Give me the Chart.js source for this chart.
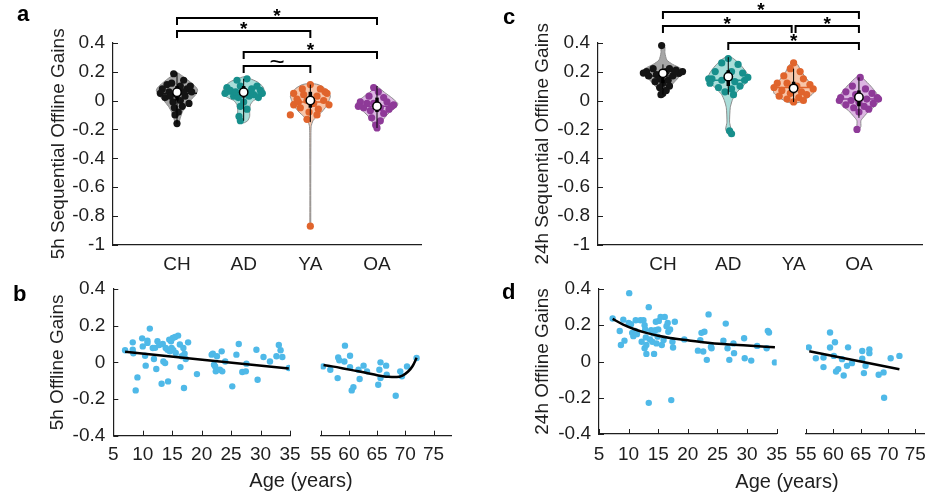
<!DOCTYPE html>
<html>
<head>
<meta charset="utf-8">
<script src="https://cdn.jsdelivr.net/npm/chart.js@4.4.0/dist/chart.umd.min.js"></script>
<style>
  body { margin: 0; background: #fff; width: 928px; height: 495px; position: relative; overflow: hidden; font-family: 'Liberation Sans', Arial, sans-serif; color: #1e1e1e; }
  canvas { position: absolute; }
  .tag { position: absolute; font-weight: bold; font-size: 22px; line-height: 22px; color: #000; }
  .xname { position: absolute; font-size: 20px; transform: translate(-50%, -50%); white-space: nowrap; }
</style>
</head>
<body>
<canvas id="violin5h" width="464" height="280" style="left:0;top:0"></canvas>
<canvas id="violin24h" width="464" height="280" style="left:464px;top:0"></canvas>
<canvas id="age5hYoung" width="300" height="225" style="left:0;top:270px"></canvas>
<canvas id="age5hOld" width="160" height="225" style="left:300px;top:270px"></canvas>
<canvas id="age24hYoung" width="326" height="225" style="left:464px;top:270px"></canvas>
<canvas id="age24hOld" width="138" height="225" style="left:790px;top:270px"></canvas>
<div class="tag" style="left:17px;top:3px">a</div>
<div class="tag" style="left:13px;top:283px">b</div>
<div class="tag" style="left:503px;top:6px">c</div>
<div class="tag" style="left:502px;top:281px">d</div>
<div class="xname" style="left:301px;top:480px">Age (years)</div>
<div class="xname" style="left:787px;top:481px">Age (years)</div>
<script>
const FONT = "'Liberation Sans', Arial, sans-serif";
const INK = '#1e1e1e';

const groups = ['CH', 'AD', 'YA', 'OA'];
const dotColors = ['#141414', '#178f8c', '#e0642c', '#8e3a98'];
const bodyColors = ['#a6a6a6', '#a9ddd9', '#f7c5a9', '#dcb6e2'];
const gainTicks = [-1, -0.8, -0.6, -0.4, -0.2, 0, 0.2, 0.4];
const ageGainTicks = [-0.4, -0.2, 0, 0.2, 0.4];
const youngAgeTicks = [5, 10, 15, 20, 25, 30, 35];
const oldAgeTicks = [55, 60, 65, 70, 75];

// panel a: 5h sequential offline gains
// violin outline per group as [gain, half width]
const outline5h = [
  [[0.195,0],[0.18,0.05],[0.15,0.14],[0.12,0.22],[0.09,0.29],[0.07,0.31],[0.04,0.28],[0,0.2],[-0.04,0.13],[-0.08,0.08],[-0.12,0.05],[-0.15,0.03],[-0.165,0]],
  [[0.165,0],[0.15,0.1],[0.13,0.2],[0.1,0.28],[0.07,0.31],[0.04,0.3],[0.02,0.24],[0,0.15],[-0.03,0.1],[-0.07,0.09],[-0.11,0.09],[-0.14,0.06],[-0.155,0]],
  [[0.12,0],[0.11,0.12],[0.09,0.2],[0.06,0.27],[0.03,0.3],[0,0.28],[-0.04,0.24],[-0.08,0.17],[-0.11,0.1],[-0.14,0.04],[-0.18,0.012],[-0.3,0.008],[-0.6,0.006],[-0.87,0.006],[-0.88,0]],
  [[0.1,0],[0.08,0.05],[0.05,0.13],[0.02,0.22],[-0.02,0.31],[-0.04,0.3],[-0.07,0.22],[-0.1,0.15],[-0.14,0.08],[-0.18,0.03],[-0.2,0]]
];
// subjects per group as [spread, gain]
const dots5h = [
  [[-0.05,0.185],[0.1,0.14],[-0.22,0.08],[-0.15,0.11],[-0.08,0.12],[0.05,0.1],[0.15,0.08],[0.22,0.06],[-0.25,0.05],[-0.12,0.06],[0,0.04],[0.12,0.03],[-0.18,0.02],[0.05,0],[-0.06,-0.01],[0.18,-0.02],[0.08,-0.04],[-0.04,-0.05],[0.02,-0.08],[-0.03,-0.1],[0,-0.16],[0.1,0.06],[-0.1,0.03],[0.2,0.1]],
  [[-0.1,0.14],[0.05,0.15],[0.2,0.1],[-0.25,0.09],[0.25,0.07],[-0.2,0.07],[0.12,0.08],[-0.05,0.1],[0.28,0.05],[-0.28,0.05],[0.15,0.04],[-0.15,0.03],[0.08,0.03],[-0.08,0.02],[0.22,0.02],[0,-0.01],[-0.05,-0.04],[0.05,-0.06],[-0.07,-0.11],[-0.05,-0.14],[0.1,0.06],[-0.12,0.06]],
  [[0,0.11],[-0.12,0.08],[0.15,0.08],[-0.25,0.05],[0.25,0.05],[-0.1,0.04],[0.1,0.03],[-0.2,0.01],[0.2,0],[-0.05,0],[0.05,-0.02],[-0.25,-0.03],[0.28,-0.03],[-0.15,-0.05],[0.12,-0.06],[-0.02,-0.08],[-0.3,-0.1],[0.1,-0.1],[-0.05,-0.13],[0,-0.87],[0.22,0.06],[-0.18,-0.01]],
  [[-0.05,0.09],[0.02,0.06],[-0.12,0.03],[0.1,0.02],[-0.25,-0.01],[-0.15,-0.02],[0.15,-0.01],[0.25,-0.03],[-0.05,-0.02],[0.05,-0.05],[-0.2,-0.05],[0.18,-0.06],[-0.1,-0.07],[0.1,-0.09],[-0.08,-0.12],[0.05,-0.14],[-0.02,-0.17],[0,-0.19],[0.22,-0.04],[-0.28,-0.04]]
];
const median5h = [0.057, 0.057, 0.0, -0.04];
const q1_5h = [0.0, 0.02, -0.05, -0.08];
const q3_5h = [0.1, 0.1, 0.06, 0.02];
const low5h = [-0.16, -0.14, -0.15, -0.19];
const high5h = [0.19, 0.15, 0.11, 0.1];
const mean5h = [0.05, 0.045, -0.01, -0.04];
const meanHalf5h = [0.3, 0.3, 0.28, 0.3];
const brackets5h = [[1, 4, 0.571, '*'], [1, 3, 0.481, '*'], [2, 4, 0.336, '*'], [2, 3, 0.239, '~']];

// panel c: 24h sequential offline gains
const outline24h = [
  [[0.39,0],[0.37,0.03],[0.33,0.03],[0.28,0.06],[0.25,0.15],[0.22,0.28],[0.2,0.3],[0.17,0.26],[0.13,0.18],[0.09,0.1],[0.06,0.06],[0.035,0]],
  [[0.31,0],[0.29,0.08],[0.25,0.18],[0.2,0.27],[0.16,0.31],[0.12,0.27],[0.08,0.18],[0.04,0.1],[0,0.06],[-0.05,0.03],[-0.15,0.02],[-0.2,0.04],[-0.235,0]],
  [[0.27,0],[0.25,0.06],[0.2,0.12],[0.15,0.2],[0.11,0.27],[0.08,0.31],[0.05,0.3],[0.02,0.22],[-0.01,0.1],[-0.02,0]],
  [[0.175,0],[0.15,0.07],[0.1,0.18],[0.05,0.27],[0.01,0.31],[-0.03,0.27],[-0.07,0.16],[-0.11,0.08],[-0.14,0.03],[-0.18,0.03],[-0.2,0]]
];
const dots24h = [
  [[-0.02,0.38],[-0.25,0.2],[-0.15,0.22],[0.1,0.22],[0.2,0.21],[0.25,0.19],[-0.22,0.17],[-0.1,0.18],[0.05,0.2],[0.15,0.17],[-0.05,0.15],[0.08,0.14],[-0.12,0.13],[0,0.12],[0.1,0.1],[-0.05,0.09],[0.05,0.07],[0,0.05],[-0.03,0.04],[0.18,0.2],[-0.3,0.19],[0.3,0.2]],
  [[0,0.29],[-0.1,0.26],[0.15,0.25],[-0.2,0.2],[0.22,0.19],[0.05,0.2],[-0.25,0.15],[0.25,0.14],[-0.1,0.14],[0.1,0.13],[-0.28,0.12],[0.18,0.1],[-0.15,0.09],[0.05,0.08],[-0.05,0.06],[0.08,0.04],[0.3,0.16],[-0.3,0.15],[0.02,-0.21],[0.05,-0.23],[0,0.18]],
  [[0,0.26],[-0.05,0.22],[0.1,0.2],[-0.15,0.17],[0.15,0.15],[-0.25,0.12],[0.25,0.11],[-0.1,0.12],[0.05,0.1],[-0.3,0.09],[0.3,0.08],[-0.18,0.07],[0.12,0.06],[-0.05,0.05],[0.2,0.04],[-0.22,0.03],[0.08,0.02],[-0.1,0.01],[0,-0.01],[0.15,0]],
  [[0.02,0.16],[-0.1,0.1],[0.1,0.08],[-0.2,0.06],[0.2,0.05],[-0.05,0.04],[0.28,0.02],[-0.28,0.02],[0.12,0.01],[-0.12,0],[0,-0.01],[0.22,-0.02],[-0.2,-0.03],[0.08,-0.04],[-0.08,-0.05],[0.15,-0.06],[0,-0.08],[-0.03,-0.2],[0.3,0.01],[-0.3,0]]
];
const median24h = [0.188, 0.165, 0.084, 0.022];
const q1_24h = [0.12, 0.1, 0.05, -0.04];
const q3_24h = [0.21, 0.21, 0.13, 0.07];
const low24h = [0.04, 0.04, -0.01, -0.12];
const high24h = [0.25, 0.3, 0.22, 0.16];
const mean24h = [0.17, 0.14, 0.09, 0.01];
const meanHalf24h = [0.27, 0.29, 0.28, 0.3];
const brackets24h = [[1, 4, 0.612, '*'], [1, 2.97, 0.516, '*'], [3.03, 4, 0.516, '*'], [2, 4, 0.4, '*']];

// panel b: 5h gains by age [age, gain]
const young5h = [[7.0,0.066],[8.3,0.109],[8.3,0.069],[8.4,0.05],[9.1,-0.082],[8.8,-0.153],[9.9,0.131],[10.0,0.087],[10.4,0.036],[10.5,-0.018],[10.8,0.106],[10.8,0.118],[11.2,0.184],[11.7,0.078],[11.9,0.018],[12.1,0.079],[12.3,-0.036],[12.5,0.115],[12.8,0.095],[13.2,-0.117],[13.4,0.1],[13.5,0.005],[13.8,-0.004],[13.9,0.078],[14.2,0.069],[14.3,-0.104],[14.5,0.124],[14.6,0.06],[14.8,0.115],[14.9,0.078],[15.1,0.133],[15.2,0.066],[15.5,0.138],[15.6,0.051],[16.0,0.146],[16.3,0.097],[16.4,-0.026],[16.6,0.033],[16.9,0.078],[17.0,-0.14],[17.1,0.047],[17.3,0.018],[17.7,0.109],[19.2,-0.064],[21.7,0.042],[21.9,0.047],[22.1,-0.013],[22.3,-0.022],[22.6,0.033],[22.4,-0.049],[23.1,-0.04],[23.4,0.06],[23.5,-0.049],[24.0,0.005],[25.2,-0.131],[25.9,0.042],[26.3,0.1],[26.9,-0.053],[27.5,-0.049],[27.6,-0.007],[29.3,0.069],[29.5,-0.095],[30.5,0.029],[31.6,0.005],[32.7,0.033],[33.1,0.095],[33.4,0.066],[33.7,0.029],[34.8,-0.031]];
const youngFit5h = [[7.0,0.058],[34.8,-0.034]];
const old5h = [[55.4,-0.022],[56.7,-0.04],[58.0,-0.086],[58.1,0.027],[58.3,0.011],[59.2,0.005],[59.3,0.091],[60.2,0.036],[60.2,-0.026],[60.5,-0.153],[60.8,-0.135],[61.9,-0.091],[61.7,-0.04],[62.6,-0.018],[63.2,-0.049],[65.2,-0.122],[65.4,-0.04],[65.6,0.0],[65.6,-0.086],[66.6,-0.018],[66.7,-0.067],[68.3,-0.182],[69.1,-0.049],[69.4,-0.076],[70.3,-0.022],[72.0,0.024]];
const oldFit5h = [[55.5,-0.015],[57,-0.022],[59,-0.033],[61,-0.045],[63,-0.057],[65,-0.07],[67,-0.079],[68.5,-0.08],[69.5,-0.072],[70.5,-0.05],[71.3,-0.02],[72,0.025]];

// panel d: 24h gains by age [age, gain]
const young24h = [[7.3,0.237],[8.5,0.168],[8.7,0.091],[9.1,0.231],[9.3,0.115],[10.0,0.213],[10.1,0.377],[10.4,0.206],[10.6,0.158],[10.8,0.14],[11.1,0.169],[11.2,0.228],[11.4,0.151],[12.0,0.228],[12.2,0.109],[12.5,0.228],[12.7,0.2],[12.8,0.177],[12.9,0.133],[12.7,0.073],[13.0,0.042],[13.0,0.091],[13.4,0.3],[13.4,-0.228],[13.6,0.122],[13.8,0.173],[14.0,0.109],[14.2,0.155],[14.3,0.042],[14.5,0.173],[14.6,0.219],[14.7,0.1],[14.9,0.137],[15.0,0.177],[15.1,0.224],[15.4,0.246],[15.6,0.091],[15.9,0.118],[16.1,0.246],[16.4,0.195],[16.6,0.213],[16.7,0.164],[17.0,0.177],[17.2,-0.213],[17.4,0.109],[17.5,0.077],[17.8,0.219],[19.4,0.122],[21.7,0.06],[22.1,0.118],[22.3,0.158],[22.8,0.164],[22.6,0.055],[23.2,0.009],[23.5,0.26],[23.9,0.082],[24.0,0.073],[26.0,0.115],[26.4,0.209],[26.7,0.073],[27.0,0.009],[27.8,0.046],[27.7,0.1],[29.5,0.128],[29.6,0.018],[30.7,0.005],[31.7,0.086],[33.5,0.169],[33.7,0.16],[33.3,0.073],[34.7,-0.005]];
const youngFit24h = [[7.3,0.235],[9,0.205],[11,0.178],[13,0.158],[15,0.142],[17,0.13],[20,0.117],[23,0.105],[26,0.096],[30,0.088],[34.7,0.078]];
const old24h = [[55.5,0.078],[56.8,0.018],[58.2,0.022],[58.2,-0.031],[59.4,0.16],[59.4,0.077],[60.3,0.106],[60.1,0.031],[60.5,-0.055],[60.9,-0.042],[61.6,0.013],[61.9,-0.077],[62.5,-0.024],[62.7,0.078],[63.4,-0.009],[65.3,0.058],[65.3,0.015],[65.6,-0.064],[65.9,-0.024],[66.6,0.067],[66.6,0.046],[68.3,-0.073],[69.2,-0.06],[69.3,-0.2],[70.5,0.018],[72.1,0.031]];
const oldFit24h = [[55.6,0.056],[72.1,-0.043]];

const fmt = v => String(Math.round(v * 10) / 10);
const pts = list => list.map(([x, y]) => ({x, y}));

// tick marks pointing into the plot
const innerTicks = {
  id: 'innerTicks',
  afterDraw(chart, args, opts) {
    const {ctx, chartArea: area, scales} = chart;
    ctx.save();
    ctx.strokeStyle = INK;
    ctx.lineWidth = 1;
    if (scales.y.options.display) {
      scales.y.ticks.forEach(t => {
        const py = Math.round(scales.y.getPixelForValue(t.value)) + 0.5;
        ctx.beginPath(); ctx.moveTo(area.left, py); ctx.lineTo(area.left + 5, py); ctx.stroke();
      });
    }
    if (opts.xTicks) {
      scales.x.ticks.forEach(t => {
        const px = Math.round(scales.x.getPixelForValue(t.value)) + 0.5;
        ctx.beginPath(); ctx.moveTo(px, area.bottom); ctx.lineTo(px, area.bottom - 5); ctx.stroke();
      });
    }
    ctx.restore();
  }
};

const brackets = {
  id: 'brackets',
  afterDatasetsDraw(chart, args, opts) {
    if (!opts.list) return;
    const {ctx, scales: {x, y}} = chart;
    ctx.save();
    ctx.strokeStyle = '#000';
    ctx.fillStyle = '#000';
    ctx.lineWidth = 2;
    ctx.textAlign = 'center';
    ctx.textBaseline = 'alphabetic';
    opts.list.forEach(([from, to, level, mark]) => {
      const x1 = x.getPixelForValue(from), x2 = x.getPixelForValue(to);
      const yy = Math.round(y.getPixelForValue(level));
      ctx.beginPath();
      ctx.moveTo(x1, yy + 7); ctx.lineTo(x1, yy); ctx.lineTo(x2, yy); ctx.lineTo(x2, yy + 7);
      ctx.stroke();
      if (mark === '~') {
        ctx.font = '26px ' + FONT;
        ctx.fillText(mark, (x1 + x2) / 2, yy + 4);
      } else {
        ctx.font = 'bold 19px ' + FONT;
        ctx.fillText(mark, (x1 + x2) / 2, yy + 4);
      }
    });
    ctx.restore();
  }
};

function yScale(ticks, show, title, titleCenter, width) {
  return {
    type: 'linear', display: show,
    min: ticks[0], max: ticks[ticks.length - 1],
    afterBuildTicks: s => { s.ticks = ticks.map(v => ({value: v})); },
    afterFit: s => { s.width = width; s.paddingTop = 0; s.paddingBottom = 0; },
    grid: {display: false, drawTicks: false},
    border: {display: true, color: INK, width: 1.2},
    ticks: {padding: 8, color: INK, font: {family: FONT, size: 19}, callback: v => fmt(v)},
    title: {display: !!title, text: title, color: INK, font: {family: FONT, size: 19},
            padding: {top: titleCenter - 11.4, bottom: 0}}
  };
}

function xScale(min, max, ticks, height, pad, label) {
  return {
    type: 'linear', min, max,
    afterBuildTicks: s => { s.ticks = ticks.map(v => ({value: v})); },
    afterFit: s => { s.height = height; s.paddingLeft = 0; s.paddingRight = 0; },
    grid: {display: false, drawTicks: false},
    border: {display: true, color: INK, width: 1.2},
    ticks: {padding: pad, color: INK, font: {family: FONT, size: 19}, callback: label}
  };
}

function violinChart(id, c) {
  const datasets = [];
  groups.forEach((g, i) => {
    const at = i + 1;
    const right = c.outline[i].map(([v, w]) => ({x: at + w, y: v}));
    const left = c.outline[i].slice().reverse().slice(1).map(([v, w]) => ({x: at - w, y: v}));
    datasets.push({data: right.concat(left), fill: 'shape', backgroundColor: bodyColors[i],
      borderColor: '#8c8c8c', borderWidth: 1, pointRadius: 0, tension: 0.2, order: 5});
    datasets.push({data: [{x: at - c.meanHalf[i], y: c.mean[i]}, {x: at + c.meanHalf[i], y: c.mean[i]}],
      borderColor: dotColors[i], borderWidth: 1.5, pointRadius: 0, order: 4});
    datasets.push({data: c.dots[i].map(([d, v]) => ({x: at + d, y: v})), showLine: false,
      pointRadius: 3.6, pointBackgroundColor: dotColors[i], pointBorderWidth: 0, order: 3});
    datasets.push({data: [{x: at, y: c.low[i]}, {x: at, y: c.high[i]}],
      borderColor: '#000', borderWidth: 1, pointRadius: 0, order: 2});
    datasets.push({data: [{x: at, y: c.q1[i]}, {x: at, y: c.q3[i]}],
      borderColor: '#000', borderWidth: 3.5, pointRadius: 0, order: 1});
    datasets.push({data: [{x: at, y: c.median[i]}], showLine: false, pointRadius: 4.2,
      pointBackgroundColor: '#fff', pointBorderColor: '#000', pointBorderWidth: 1.5, order: 0});
  });
  new Chart(document.getElementById(id), {
    type: 'line',
    data: {datasets},
    options: {
      responsive: false, animation: false, clip: false,
      layout: {padding: c.padding},
      plugins: {legend: {display: false}, tooltip: {enabled: false}, brackets: {list: c.brackets}},
      scales: {
        x: xScale(c.xMin, c.xMax, groups.map((g, i) => i + 1), 35, 8.5, v => groups[v - 1]),
        y: yScale(gainTicks, true, c.title, c.titleCenter, c.yWidth)
      }
    },
    plugins: [innerTicks, brackets]
  });
}

function ageChart(id, c) {
  new Chart(document.getElementById(id), {
    type: 'line',
    data: {datasets: [
      {data: pts(c.fit), borderColor: '#000', borderWidth: 2.5, pointRadius: 0,
       cubicInterpolationMode: 'monotone', order: 0},
      {data: pts(c.dots), showLine: false, pointRadius: 3.2, pointBackgroundColor: '#4fb9e8',
       pointBorderWidth: 0, order: 1}
    ]},
    options: {
      responsive: false, animation: false,
      layout: {padding: c.padding},
      plugins: {legend: {display: false}, tooltip: {enabled: false}, innerTicks: {xTicks: true}},
      scales: {
        x: xScale(c.xMin, c.xMax, c.xTicks, c.xHeight, c.xPad, v => String(v)),
        y: yScale(ageGainTicks, c.showY, c.title, c.titleCenter, c.yWidth)
      }
    },
    plugins: [innerTicks]
  });
}

violinChart('violin5h', {
  outline: outline5h, dots: dots5h, median: median5h, q1: q1_5h, q3: q3_5h, low: low5h, high: high5h,
  mean: mean5h, meanHalf: meanHalf5h, brackets: brackets5h,
  xMin: 0.04, xMax: 4.66, padding: {left: 0, top: 42.7, right: 43, bottom: 0},
  yWidth: 113, title: '5h Sequential Offline Gains', titleCenter: 59
});
violinChart('violin24h', {
  outline: outline24h, dots: dots24h, median: median24h, q1: q1_24h, q3: q3_24h, low: low24h, high: high24h,
  mean: mean24h, meanHalf: meanHalf24h, brackets: brackets24h,
  xMin: 0.006, xMax: 4.97, padding: {left: 0, top: 42.7, right: 0, bottom: 0},
  yWidth: 134, title: '24h Sequential Offline Gains', titleCenter: 78.5
});
ageChart('age5hYoung', {
  dots: young5h, fit: youngFit5h, xMin: 5, xMax: 35, xTicks: youngAgeTicks, xHeight: 59.3, xPad: 8,
  padding: {left: 0, top: 19, right: 10, bottom: 0}, showY: true, yWidth: 113.3,
  title: '5h Offline Gains', titleCenter: 58
});
ageChart('age5hOld', {
  dots: old5h, fit: oldFit5h, xMin: 55, xMax: 78.1, xTicks: oldAgeTicks, xHeight: 59.3, xPad: 8,
  padding: {left: 20.7, top: 19, right: 9, bottom: 0}, showY: false, yWidth: 0
});
ageChart('age24hYoung', {
  dots: young24h, fit: youngFit24h, xMin: 5, xMax: 35, xTicks: youngAgeTicks, xHeight: 61, xPad: 9.5,
  padding: {left: 0, top: 19, right: 13.3, bottom: 0}, showY: true, yWidth: 135,
  title: '24h Offline Gains', titleCenter: 79
});
ageChart('age24hOld', {
  dots: old24h, fit: oldFit24h, xMin: 55, xMax: 76.6, xTicks: oldAgeTicks, xHeight: 61, xPad: 9.5,
  padding: {left: 16, top: 19, right: 0, bottom: 0}, showY: false, yWidth: 0
});
</script>
</body>
</html>
